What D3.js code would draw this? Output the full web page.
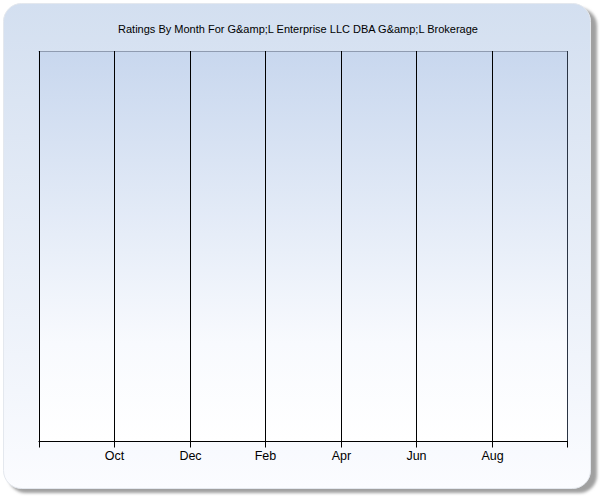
<!DOCTYPE html>
<html><head><meta charset="utf-8">
<script src="https://cdn.jsdelivr.net/npm/d3@7"></script>
<style>body{margin:0;background:#fff}svg{display:block}</style>
</head><body>
<script>
const title = "Ratings By Month For G&amp;L Enterprise LLC DBA G&amp;L Brokerage";
const months = ["Aug0", "Oct", "Dec", "Feb", "Apr", "Jun", "Aug", "Oct1"];
const tickLabels = ["", "Oct", "Dec", "Feb", "Apr", "Jun", "Aug", ""];
const ratings = [null, null, null, null, null, null, null, null];

(function () {
const W = 600, H = 500;
const svg = d3.select("body").append("svg").attr("width", W).attr("height", H);
const defs = svg.append("defs");
const g1 = defs.append("linearGradient").attr("id", "panelG").attr("x1", 0).attr("y1", 0).attr("x2", 0).attr("y2", 1);
g1.append("stop").attr("offset", "0%").attr("stop-color", "#d3dff0");
g1.append("stop").attr("offset", "100%").attr("stop-color", "#fbfcff");
const g2 = defs.append("linearGradient").attr("id", "plotG").attr("x1", 0).attr("y1", 0).attr("x2", 0).attr("y2", 1);
g2.append("stop").attr("offset", "0%").attr("stop-color", "#c8d7ee");
g2.append("stop").attr("offset", "75%").attr("stop-color", "#f8fafe");
g2.append("stop").attr("offset", "100%").attr("stop-color", "#ffffff");
const f = defs.append("filter").attr("id", "sh").attr("x", "-5%").attr("y", "-5%").attr("width", "115%").attr("height", "115%");
f.append("feGaussianBlur").attr("stdDeviation", 1.5);

svg.append("rect").attr("x", 8).attr("y", 8).attr("width", 589).attr("height", 485).attr("rx", 18)
  .attr("fill", "#a0a0a0").attr("filter", "url(#sh)");
svg.append("rect").attr("x", 3.5).attr("y", 3.5).attr("width", 587).attr("height", 485).attr("rx", 18)
  .attr("fill", "url(#panelG)").attr("stroke", "#e4e8ee").attr("stroke-width", 1);

svg.append("text").attr("x", 298).attr("y", 33).attr("text-anchor", "middle")
  .attr("font-family", "Liberation Sans, Arial, sans-serif").attr("font-size", 11).attr("fill", "#000")
  .text(title);

const pL = 38.5, pR = 567, pT = 51, pB = 441;
const x = d3.scalePoint().domain(months).range([pL, pR]);
const y = d3.scaleLinear().domain([0, 5]).range([pB, pT]);

svg.append("rect").attr("x", pL).attr("y", pT).attr("width", pR - pL).attr("height", pB - pT)
  .attr("fill", "url(#plotG)");
svg.append("line").attr("x1", pL).attr("x2", pR).attr("y1", pT + 0.5).attr("y2", pT + 0.5)
  .attr("stroke", "#8f9bb0");

svg.append("g").selectAll("line").data(months).join("line")
  .attr("x1", d => Math.round(x(d)) + 0.5).attr("x2", d => Math.round(x(d)) + 0.5)
  .attr("y1", pT).attr("y2", pB)
  .attr("stroke", (d, i) => i === months.length - 1 ? "#2a3444" : "#000");

const ax = svg.append("g").attr("transform", `translate(0,${pB + 0.5})`)
  .call(d3.axisBottom(x).tickSize(6).tickSizeOuter(0).tickFormat((d, i) => tickLabels[i]));
ax.select(".domain").attr("stroke", "#000").attr("d", `M${pL},0H${pR + 1}`);
ax.selectAll(".tick line").attr("stroke", "#000");
ax.selectAll(".tick").attr("transform", d => `translate(${Math.round(x(d)) + 0.5},0)`);
ax.selectAll(".tick text").attr("font-family", "Liberation Sans, Arial, sans-serif").attr("font-size", 12.5)
  .attr("fill", "#000").attr("y", 10).attr("dy", "0.71em");
})();
</script>
</body></html>
